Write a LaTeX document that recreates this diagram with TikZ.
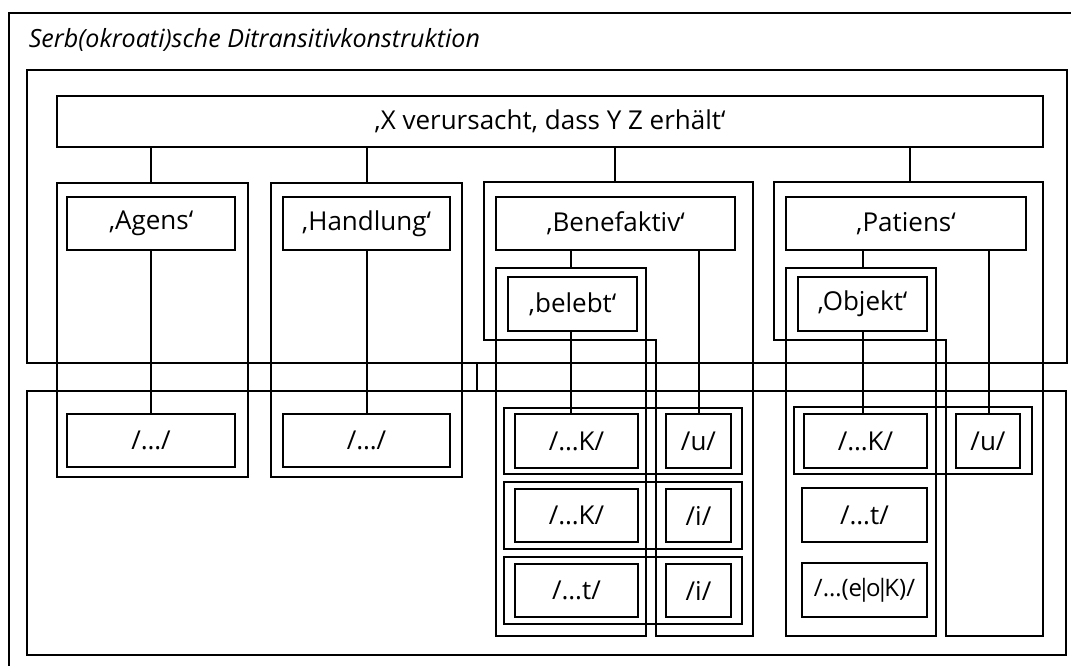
\documentclass[tikz,border=0pt]{standalone}
\usepackage{fontspec}
\setmainfont{Open Sans}
\usetikzlibrary{fit}
\newcommand\tightbar{\kern-3.5pt|\kern-3.5pt}
\tikzset{
  frame/.style={draw, line width=1.2pt, inner sep=0pt, fit={#1}},
  tag/.style={label={[font=\fontsize{19.5}{23}\selectfont, inner sep=0pt]center:#1}},
  smalltag/.style={label={[font=\fontsize{18}{22}\selectfont, inner sep=0pt]center:#1}},
  link/.style={draw, line width=1.2pt},
}
\begin{document}
\begin{tikzpicture}[x=0.75pt, y=-0.75pt, line width=1.2pt]
\useasboundingbox (0,0) rectangle (1071,666);

% enclosing construction frame (runs off the page on the right and bottom)
\draw[line width=1.3pt] (9,666) -- (9,13) -- (1071,13);
\node[anchor=base west, inner sep=0pt, font=\fontsize{18.8}{22}\selectfont\itshape] (title) at (28,48)
  {Serb(okroati)sche Ditransitivkonstruktion};

% vertical tracks of the connectors
\coordinate (xAg) at (151,0);
\coordinate (xHa) at (367,0);
\coordinate (xBe) at (615,0);
\coordinate (xBl) at (571,0);
\coordinate (xBu) at (699,0);
\coordinate (xPa) at (910,0);
\coordinate (xOb) at (863,0);
\coordinate (xPu) at (989,0);

% semantic pole and form pole
\node[frame={(27,70) (1067,363)}] (sem) {};
\node[frame={(27,391) (1066,655)}] (frm) {};
\coordinate (lnk) at (477,363);
\draw[link] (lnk) -- (lnk |- frm.north);

% overall meaning
\node[frame={(57,96) (1043,147)}, tag={‚X verursacht, dass Y Z erhält‘}] (top) {};

% Agens
\node[frame={(57,183) (248,477)}] (agO) {};
\node[frame={(67,197) (235,250)}, tag={‚Agens‘}] (agI) {};
\node[frame={(67,414) (235,467)}, tag={/…/}] (agF) {};
\draw[link] (xAg |- top.south) -- (xAg |- agO.north);
\draw[link] (xAg |- agI.south) -- (xAg |- agF.north);

% Handlung
\node[frame={(271,183) (462,477)}] (haO) {};
\node[frame={(283,197) (450,250)}, tag={‚Handlung‘}] (haI) {};
\node[frame={(283,414) (450,467)}, tag={/…/}] (haF) {};
\draw[link] (xHa |- top.south) -- (xHa |- haO.north);
\draw[link] (xHa |- haI.south) -- (xHa |- haF.north);

% Benefaktiv
\coordinate (benTop) at (615,182);
\draw (484,182) -- (753,182) -- (753,636) -- (656,636) -- (656,340) -- (484,340) -- cycle;
\node[frame={(496,197) (735,250)}, tag={‚Benefaktiv‘}] (beI) {};
\node[frame={(496,268) (646,636)}] (blO) {};
\node[frame={(508,277) (637,331)}, tag={‚belebt‘}] (blI) {};
\node[frame={(504,408) (742,474)}] (bR1) {};
\node[frame={(515,414) (638,468)}, tag={/…K/}] (bK1) {};
\node[frame={(666,414) (731,468)}, tag={/u/}] (bU1) {};
\node[frame={(504,482) (742,549)}] (bR2) {};
\node[frame={(515,489) (638,542)}, tag={/…K/}] (bK2) {};
\node[frame={(666,489) (731,542)}, tag={/i/}] (bI2) {};
\node[frame={(504,557) (742,624)}] (bR3) {};
\node[frame={(515,564) (638,617)}, tag={/…t/}] (bT3) {};
\node[frame={(666,564) (731,617)}, tag={/i/}] (bI3) {};
\draw[link] (xBe |- top.south) -- (benTop);
\draw[link] (xBl |- beI.south) -- (xBl |- blO.north);
\draw[link] (xBl |- blI.south) -- (xBl |- bK1.north);
\draw[link] (xBu |- beI.south) -- (xBu |- bU1.north);

% Patiens
\coordinate (patTop) at (910,182);
\draw (774,182) -- (1043,182) -- (1043,636) -- (946,636) -- (946,340) -- (774,340) -- cycle;
\node[frame={(786,197) (1026,250)}, tag={‚Patiens‘}] (paI) {};
\node[frame={(786,268) (936,636)}] (obO) {};
\node[frame={(798,277) (927,331)}, tag={‚Objekt‘}] (obI) {};
\node[frame={(794,407) (1032,474)}] (pR1) {};
\node[frame={(804,414) (927,468)}, tag={/…K/}] (pK1) {};
\node[frame={(956,414) (1020,468)}, tag={/u/}] (pU1) {};
\node[frame={(802,488) (927,542)}, tag={/…t/}] (pT2) {};
\node[frame={(802,563) (927,617)}, smalltag={/…(e\tightbar o\tightbar K)/}] (pE3) {};
\draw[link] (xPa |- top.south) -- (patTop);
\draw[link] (xOb |- paI.south) -- (xOb |- obO.north);
\draw[link] (xOb |- obI.south) -- (xOb |- pK1.north);
\draw[link] (xPu |- paI.south) -- (xPu |- pU1.north);
\end{tikzpicture}
\end{document}
